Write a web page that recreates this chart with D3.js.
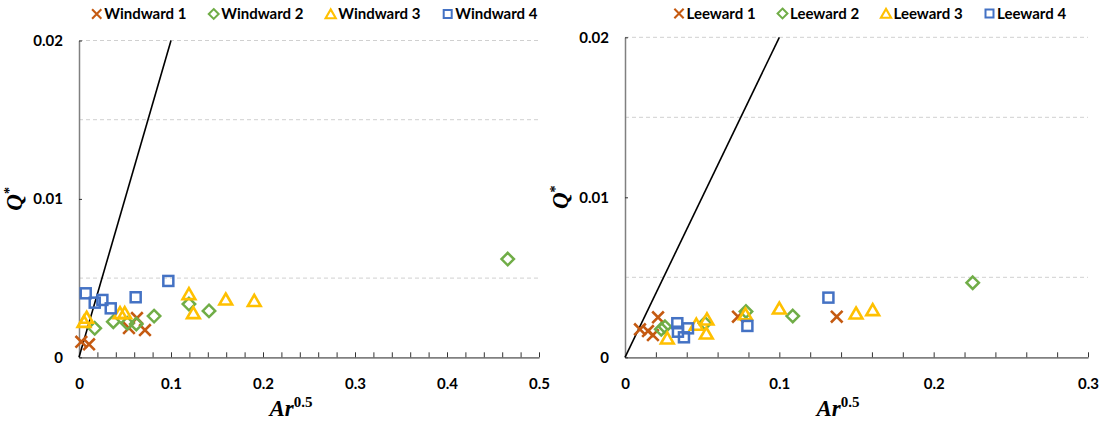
<!DOCTYPE html>
<html><head><meta charset="utf-8">
<script src="https://cdn.jsdelivr.net/npm/d3@7"></script>
<style>
html,body{margin:0;padding:0;background:#fff;}
svg{display:block;font-family:Lato,"Open Sans",sans-serif;}
</style></head>
<body>
<svg id="chart" width="1105" height="421"></svg>
<script>
// ---------- DATA ----------
const windwardNames = ["Windward 1","Windward 2","Windward 3","Windward 4"];
const leewardNames  = ["Leeward 1","Leeward 2","Leeward 3","Leeward 4"];

const windward1 = [[0.0025,0.00098],[0.0109,0.00082],[0.0543,0.00185],[0.0630,0.00248],[0.0717,0.00172]];
const windward2 = [[0.0171,0.00183],[0.0373,0.00225],[0.0525,0.00215],[0.0623,0.00210],[0.0816,0.00260],[0.1195,0.00336],[0.1413,0.00293],[0.4660,0.00620]];
const windward3 = [[0.0054,0.00225],[0.0083,0.00251],[0.0446,0.00280],[0.0497,0.00280],[0.1195,0.00400],[0.1243,0.00280],[0.1595,0.00366],[0.1905,0.00357]];
const windward4 = [[0.0073,0.00404],[0.0171,0.00345],[0.0254,0.00362],[0.0345,0.00309],[0.0616,0.00379],[0.0971,0.00482]];

const leeward1 = [[0.0097,0.00175],[0.0149,0.00164],[0.0214,0.00250],[0.0181,0.00139],[0.0732,0.00254],[0.1372,0.00254]];
const leeward2 = [[0.0235,0.00175],[0.0259,0.00191],[0.0518,0.00213],[0.0784,0.00286],[0.1087,0.00258],[0.2253,0.00466]];
const leeward3 = [[0.0274,0.00119],[0.0462,0.00205],[0.0531,0.00238],[0.0527,0.00150],[0.0780,0.00270],[0.1000,0.00306],[0.1497,0.00275],[0.1605,0.00296]];
const leeward4 = [[0.0339,0.00213],[0.0343,0.00160],[0.0408,0.00181],[0.0382,0.00125],[0.0793,0.00196],[0.1318,0.00373]];

const refLine = [[0,0],[0.1,0.02]];   // Q* = 0.2 Ar^0.5

const xTicksLeft  = [0,0.02,0.04,0.06,0.08,0.1,0.12,0.14,0.16,0.18,0.2,0.22,0.24,0.26,0.28,0.3,0.32,0.34,0.36,0.38,0.4,0.42,0.44,0.46,0.48,0.5];
const xLabelsLeft = [0,0.1,0.2,0.3,0.4,0.5];
const xTicksRight = [0,0.02,0.04,0.06,0.08,0.1,0.12,0.14,0.16,0.18,0.2,0.22,0.24,0.26,0.28,0.3];
const xLabelsRight= [0,0.1,0.2,0.3];
const yLabels = [0,0.01,0.02];
const yGrid   = [0.005,0.015,0.02];

const colors  = ["#C55A11","#70AD47","#FFC000","#4472C4"];
const shapes  = ["x","diamond","triangle","square"];

// ---------- DRAW ----------
const svg = d3.select("#chart");

function marker(g, shape, color){
  if(shape==="x"){
    const s = 5.8;
    g.append("path").attr("d",`M${-s},${-s}L${s},${s}M${-s},${s}L${s},${-s}`)
     .attr("stroke",color).attr("stroke-width",2.6).attr("fill","none");
  } else if(shape==="diamond"){
    const d=6.2;
    g.append("path").attr("d",`M0,${-d}L${d},0L0,${d}L${-d},0Z`)
     .attr("stroke",color).attr("stroke-width",2.5).attr("fill","none");
  } else if(shape==="triangle"){
    const h=5.8;
    g.append("path").attr("d",`M0,${-h}L${h*1.1},${h*0.9}L${-h*1.1},${h*0.9}Z`)
     .attr("stroke",color).attr("stroke-width",2.6).attr("fill","none");
  } else {
    const q=5;
    g.append("rect").attr("x",-q).attr("y",-q).attr("width",2*q).attr("height",2*q)
     .attr("stroke",color).attr("stroke-width",2.5).attr("fill","none");
  }
}

function drawPanel(cfg){
  const x = d3.scaleLinear().domain([0,cfg.xMax]).range([cfg.left,cfg.right]);
  const y = d3.scaleLinear().domain([0,0.02]).range([cfg.bottom,cfg.top]);
  const g = svg.append("g");

  // gridlines
  g.selectAll(".grid").data(yGrid).join("line")
    .attr("x1",cfg.left).attr("x2",cfg.right)
    .attr("y1",d=>y(d)).attr("y2",d=>y(d))
    .attr("stroke","#d0d0d0").attr("stroke-width",1).attr("stroke-dasharray","4,3");

  // x axis
  const xa = g.append("g").attr("transform",`translate(0,${cfg.bottom})`)
    .call(d3.axisBottom(x).tickValues(cfg.xTicks).tickSizeInner(-5).tickSizeOuter(0).tickPadding(21)
      .tickFormat(d=> cfg.xLabels.some(v=>Math.abs(v-d)<1e-9) ? d3.format("~g")(d) : ""));
  xa.select(".domain").attr("stroke","#808080").attr("stroke-width",1.8);
  xa.selectAll(".tick line").attr("stroke","#333").attr("stroke-width",1);
  xa.selectAll(".tick text").attr("font-family","Lato").attr("font-weight","bold")
    .attr("font-size",15).attr("fill","#000");

  // y axis
  const ya = g.append("g").attr("transform",`translate(${cfg.left},0)`)
    .call(d3.axisLeft(y).tickValues(yLabels).tickSizeInner(-3).tickSizeOuter(0).tickPadding(16)
      .tickFormat(d=> d===0 ? "0" : d3.format(".2f")(d)));
  ya.select(".domain").attr("stroke","#808080").attr("stroke-width",1.5);
  ya.selectAll(".tick line").attr("stroke","#333");
  ya.selectAll(".tick text").attr("font-family","Lato").attr("font-weight","bold")
    .attr("font-size",15).attr("fill","#000");

  // reference line
  g.append("path").datum(refLine)
    .attr("d",d3.line().x(d=>x(d[0])).y(d=>y(d[1])))
    .attr("stroke","#000").attr("stroke-width",1.6).attr("fill","none");

  // series
  cfg.series.forEach((ser,i)=>{
    const sg = g.append("g");
    ser.forEach(p=>{
      const m = sg.append("g").attr("transform",`translate(${x(p[0])},${y(p[1])})`);
      marker(m, shapes[i], colors[i]);
    });
  });

  // legend
  cfg.names.forEach((n,i)=>{
    const lx = cfg.legendX + i*cfg.legendStep;
    const m = g.append("g").attr("transform",`translate(${lx},${cfg.legendY}) scale(0.8)`);
    marker(m, shapes[i], colors[i]);
    g.append("text").attr("x",lx+7.5).attr("y",cfg.legendY).attr("dy","0.35em")
      .attr("font-family","Lato").attr("font-weight","bold").attr("font-size",15)
      .attr("fill","#000").text(n);
  });

  // axis titles
  const xt = g.append("text").attr("x",cfg.left+cfg.xTitleOff).attr("y",416)
    .attr("text-anchor","middle").attr("font-family","Liberation Serif").attr("font-weight","bold");
  xt.append("tspan").attr("font-style","italic").attr("font-size",23).text("Ar");
  xt.append("tspan").attr("font-size",15).attr("dy",-9).text("0.5");

  const yt = g.append("text")
    .attr("transform",`translate(${cfg.left-cfg.yTitleOff},${(cfg.top+cfg.bottom)/2}) rotate(-90)`)
    .attr("text-anchor","middle").attr("dy","0.35em")
    .attr("font-family","Liberation Serif").attr("font-weight","bold");
  yt.append("tspan").attr("font-style","italic").attr("font-size",23).text("Q");
  yt.append("tspan").attr("font-size",14).attr("dy",-8).text("*");
}

drawPanel({left:79,right:539,top:40.5,bottom:357.3,xMax:0.5,
  xTicks:xTicksLeft,xLabels:xLabelsLeft,
  series:[windward1,windward2,windward3,windward4],names:windwardNames,
  legendX:96.7,legendStep:117,legendY:14,xTitleOff:212,yTitleOff:63});

drawPanel({left:625,right:1088,top:37.3,bottom:357.3,xMax:0.3,
  xTicks:xTicksRight,xLabels:xLabelsRight,
  series:[leeward1,leeward2,leeward3,leeward4],names:leewardNames,
  legendX:679,legendStep:103.5,legendY:13.5,xTitleOff:213,yTitleOff:63});
</script>
</body></html>
